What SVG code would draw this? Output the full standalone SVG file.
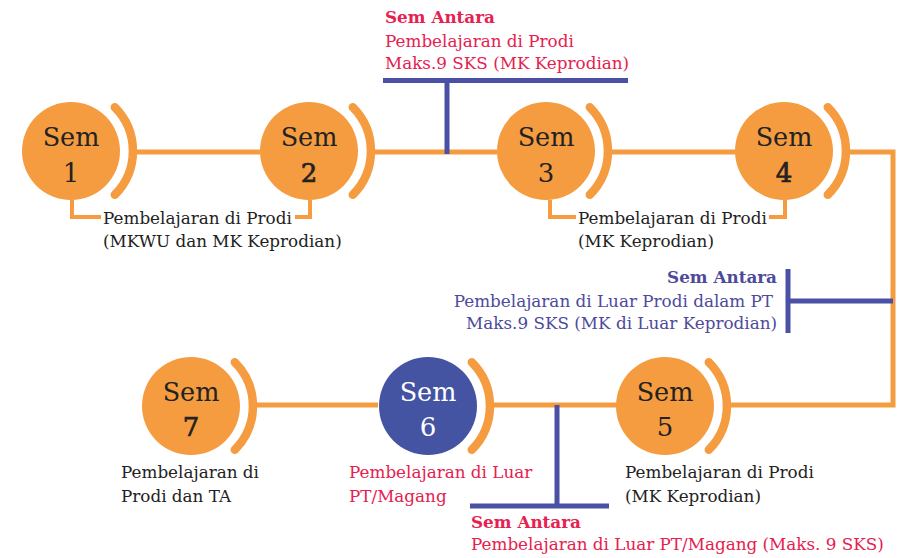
<svg xmlns="http://www.w3.org/2000/svg" width="901" height="558" viewBox="0 0 901 558">
<style>
.c{fill:#f59c40}
.cb{fill:#4553a3}
.arc{fill:none;stroke:#f59c40;stroke-width:8.5;stroke-linecap:round}
.ln{fill:none;stroke:#f59c40;stroke-width:5}
.br{fill:none;stroke:#f59c40;stroke-width:4}
.bl{fill:none;stroke:#4a50a3;stroke-width:5}
.sem{font-family:"DejaVu Serif",serif;font-size:25.5px;fill:#222;text-anchor:middle}
.num{font-family:"DejaVu Serif",serif;font-size:26px;fill:#222;text-anchor:middle}
.hv{stroke:#222;stroke-width:0.7}
.w{fill:#fff}
.t{font-family:"DejaVu Serif",serif;font-size:16.8px;fill:#222}
.r{fill:#e6204f}
.p{fill:#4d4a9c}
.b{font-weight:bold}
</style>
<g id="connectors">
<path class="ln" d="M135 152H260M373 152H497M610 152H735M848 152H893V405H729M617 405H492M378 405H255"/>
<path class="br" d="M72 200V217H101M295 217H310V200"/>
<path class="br" d="M550 200V217H576M769 217H785V200"/>
<path class="bl" d="M383 80.5H628M447 80.5V154"/>
<path class="bl" d="M788 269V333M788 301H893"/>
<path class="bl" d="M557 405V506M470 506H609"/>
</g>
<g id="sem1"><circle class="c" cx="71" cy="151" r="49"/><path class="arc" d="M114.8 107.2A62 62 0 0 1 114.8 194.8"/><text class="sem" x="71" y="146">Sem</text><text class="num" x="71" y="182">1</text></g>
<g id="sem2"><circle class="c" cx="309" cy="151" r="49"/><path class="arc" d="M352.8 107.2A62 62 0 0 1 352.8 194.8"/><text class="sem" x="309" y="146">Sem</text><text class="num hv" x="309" y="182">2</text></g>
<g id="sem3"><circle class="c" cx="546" cy="151" r="49"/><path class="arc" d="M589.8 107.2A62 62 0 0 1 589.8 194.8"/><text class="sem" x="546" y="146">Sem</text><text class="num" x="546" y="182">3</text></g>
<g id="sem4"><circle class="c" cx="784" cy="151" r="49"/><path class="arc" d="M827.8 107.2A62 62 0 0 1 827.8 194.8"/><text class="sem" x="784" y="146">Sem</text><text class="num hv" x="784" y="182">4</text></g>
<g id="sem5"><circle class="c" cx="665" cy="406" r="49"/><path class="arc" d="M708.8 362.2A62 62 0 0 1 708.8 449.8"/><text class="sem" x="665" y="401">Sem</text><text class="num" x="665" y="436">5</text></g>
<g id="sem6"><circle class="cb" cx="428" cy="406" r="49"/><path class="arc" d="M471.8 362.2A62 62 0 0 1 471.8 449.8"/><text class="sem w" x="428" y="401">Sem</text><text class="num w" x="428" y="436">6</text></g>
<g id="sem7"><circle class="c" cx="191" cy="406" r="49"/><path class="arc" d="M234.8 362.2A62 62 0 0 1 234.8 449.8"/><text class="sem" x="191" y="401">Sem</text><text class="num hv" x="191" y="436">7</text></g>
<g id="label12"><text class="t" x="103" y="224">Pembelajaran di Prodi</text><text class="t" x="103" y="247">(MKWU dan MK Keprodian)</text></g>
<g id="label34"><text class="t" x="578" y="224">Pembelajaran di Prodi</text><text class="t" x="578" y="247">(MK Keprodian)</text></g>
<g id="label5"><text class="t" x="625" y="478">Pembelajaran di Prodi</text><text class="t" x="625" y="502">(MK Keprodian)</text></g>
<g id="label6"><text class="t r" x="349" y="478">Pembelajaran di Luar</text><text class="t r" x="349" y="502">PT/Magang</text></g>
<g id="label7"><text class="t" x="121" y="478">Pembelajaran di</text><text class="t" x="121" y="502">Prodi dan TA</text></g>
<g id="antara1"><text class="t r b" x="385" y="23">Sem Antara</text><text class="t r" x="385" y="47">Pembelajaran di Prodi</text><text class="t r" x="385" y="69">Maks.9 SKS (MK Keprodian)</text></g>
<g id="antara2" text-anchor="end"><text class="t p b" x="777" y="283">Sem Antara</text><text class="t p" x="773" y="307">Pembelajaran di Luar Prodi dalam PT</text><text class="t p" x="777" y="329">Maks.9 SKS (MK di Luar Keprodian)</text></g>
<g id="antara3"><text class="t r b" x="471" y="528">Sem Antara</text><text class="t r" x="471" y="550">Pembelajaran di Luar PT/Magang (Maks. 9 SKS)</text></g>
</svg>
